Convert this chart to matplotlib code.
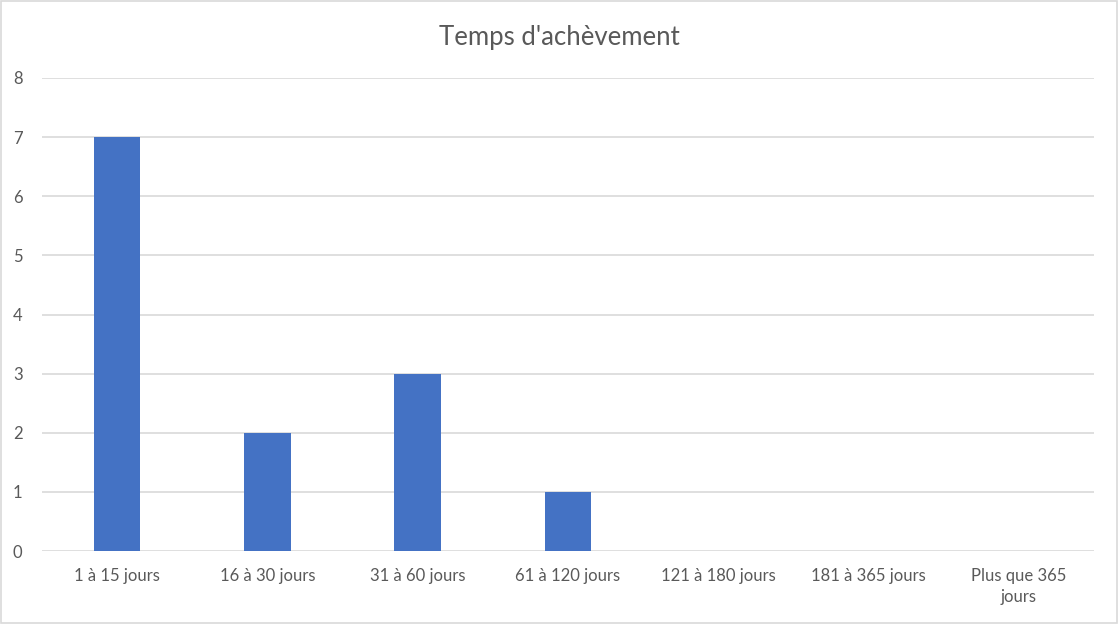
import matplotlib
matplotlib.use("Agg")
import matplotlib.pyplot as plt
from matplotlib.patches import Rectangle

categories = ["1 à 15 jours", "16 à 30 jours", "31 à 60 jours", "61 à 120 jours",
              "121 à 180 jours", "181 à 365 jours", "Plus que 365\njours"]
values = [7, 2, 3, 1, 0, 0, 0]

plt.rcParams['font.family'] = ['Lato', 'DejaVu Sans']
text_color = "#595959"

fig = plt.figure(figsize=(11.18, 6.24), dpi=100)
ax = fig.add_axes([42 / 1118, 1 - 551 / 624, (1094 - 42) / 1118, (551 - 78) / 624])

x = range(len(categories))
ax.bar(x, values, width=0.31, color="#4472C4", zorder=3)

ax.set_xlim(-0.5, len(categories) - 0.5)
ax.set_ylim(0, 8)
ax.set_yticks(range(0, 9))
ax.set_xticks(list(x))
ax.set_xticklabels(categories, linespacing=1.4)
ax.grid(axis="y", color="#d9d9d9", linewidth=1.2, zorder=0)
ax.tick_params(axis="both", length=0, labelsize=12, colors=text_color)
ax.tick_params(axis="y", pad=14)
ax.tick_params(axis="x", pad=12)
for s in ax.spines.values():
    s.set_visible(False)

fig.text(0.5, 1 - 37 / 624, "Temps d'achèvement", ha="center", va="center",
         fontsize=18.5, color=text_color)

fig.patches.append(Rectangle((0.0008, 0.0015), 0.9984, 0.997, transform=fig.transFigure,
                             fill=False, edgecolor="#d9d9d9", linewidth=1.2))

fig.savefig("out.png", dpi=100)
